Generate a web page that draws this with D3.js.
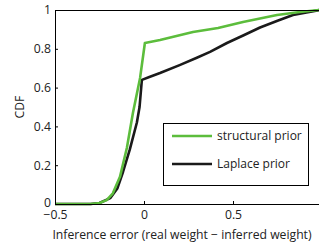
<!DOCTYPE html>
<html>
<head>
<meta charset="utf-8">
<script src="https://cdnjs.cloudflare.com/ajax/libs/d3/7.8.5/d3.min.js"></script>
<style>
  body { margin: 0; background: #fff; }
  text { font-family: "Open Sans", "DejaVu Sans", sans-serif; }
</style>
</head>
<body>
<script>
const structural = [
  [-0.5, 0], [-0.3, 0], [-0.25, 0.005], [-0.21, 0.02], [-0.175, 0.055],
  [-0.135, 0.14], [-0.096, 0.29], [-0.062, 0.47], [-0.022, 0.65], [0.005, 0.83],
  [0.09, 0.845], [0.275, 0.887], [0.416, 0.907], [0.556, 0.938],
  [0.747, 0.974], [0.876, 0.99], [0.985, 1.0]
];
const laplace = [
  [-0.5, 0], [-0.3, 0], [-0.25, 0.005], [-0.19, 0.03], [-0.15, 0.08],
  [-0.118, 0.165], [-0.08, 0.28], [-0.04, 0.42], [-0.025, 0.5], [-0.012, 0.64],
  [0.03, 0.655], [0.09, 0.675], [0.2, 0.716], [0.3, 0.755], [0.371, 0.784],
  [0.466, 0.83], [0.56, 0.87], [0.652, 0.91], [0.75, 0.945], [0.837, 0.974],
  [0.985, 1.0]
];
const series = [
  {name: "structural prior", data: structural, color: "#5cbd3c"},
  {name: "Laplace prior", data: laplace, color: "#1a1a1a"}
];
const xTicks = [-0.5, 0, 0.5];
const yTicks = [0, 0.2, 0.4, 0.6, 0.8, 1];

const w = 319, h = 246;
const mLeft = 55, mTop = 10, mRight = 322, mBottom = 204;
const fs = 12.2;

const svg = d3.select("body").append("svg")
  .attr("width", w).attr("height", h);

const x = d3.scaleLinear().domain([-0.5, 1]).range([mLeft, mRight]);
const y = d3.scaleLinear().domain([0, 1]).range([mBottom, mTop]);

svg.append("defs").append("clipPath").attr("id", "clip")
  .append("rect").attr("x", mLeft).attr("y", mTop - 3)
  .attr("width", mRight - mLeft).attr("height", mBottom - mTop + 6);

const line = d3.line().x(d => x(d[0])).y(d => y(d[1]));

const g = svg.append("g").attr("clip-path", "url(#clip)");
// draw laplace first so green stays on top at the overlap
[series[1], series[0]].forEach(s => {
  g.append("path").datum(s.data)
    .attr("d", line)
    .attr("fill", "none")
    .attr("stroke", s.color)
    .attr("stroke-width", 2.6)
    .attr("stroke-linejoin", "round");
});

// box
svg.append("path")
  .attr("d", `M${mLeft},${mTop + 0.5}H${w}M${mLeft + 0.5},${mTop}V${mBottom + 0.5}H${w}`)
  .attr("fill", "none").attr("stroke", "#000").attr("stroke-width", 1);

const xAxis = svg.append("g").attr("transform", `translate(0,${mBottom})`)
  .call(d3.axisBottom(x).tickValues(xTicks).tickSize(-3).tickPadding(8)
    .tickFormat(d => d === 0 ? "0" : d3.format(".1f")(d).replace("-", "\u2212")));
const yAxis = svg.append("g").attr("transform", `translate(${mLeft},0)`)
  .call(d3.axisLeft(y).tickValues(yTicks).tickSize(-3).tickPadding(4)
    .tickFormat(d => (d === 0 || d === 1) ? String(d) : d3.format(".1f")(d)));
[xAxis, yAxis].forEach(a => {
  a.select(".domain").remove();
  a.selectAll(".tick line").attr("stroke", "#000");
  a.selectAll(".tick text").attr("font-size", fs).attr("fill", "#222")
    .style("font-family", "'Open Sans', sans-serif");
});
xAxis.selectAll(".tick text").attr("dy", "0.6em");
yAxis.selectAll(".tick text").filter(d => d === 0).attr("dy", "0.2em");

svg.append("text")
  .attr("x", 182).attr("y", 239)
  .attr("text-anchor", "middle").attr("font-size", fs).attr("fill", "#222")
  .text("Inference error (real weight \u2212 inferred weight)");

svg.append("text")
  .attr("transform", "translate(24,107) rotate(-90)")
  .attr("text-anchor", "middle").attr("font-size", fs).attr("fill", "#222")
  .text("CDF");

// legend
const lg = svg.append("g");
lg.append("rect").attr("x", 163.5).attr("y", 123.5).attr("width", 145).attr("height", 62)
  .attr("fill", "#fff").attr("stroke", "#000").attr("stroke-width", 1);
series.forEach((s, i) => {
  const yy = 136 + i * 28;
  lg.append("line").attr("x1", 172).attr("x2", 212).attr("y1", yy).attr("y2", yy)
    .attr("stroke", s.color).attr("stroke-width", 2.6);
  lg.append("text").attr("x", 217).attr("y", yy).attr("dy", "0.35em")
    .attr("font-size", 12).attr("fill", "#222").text(s.name);
});
</script>
</body>
</html>
